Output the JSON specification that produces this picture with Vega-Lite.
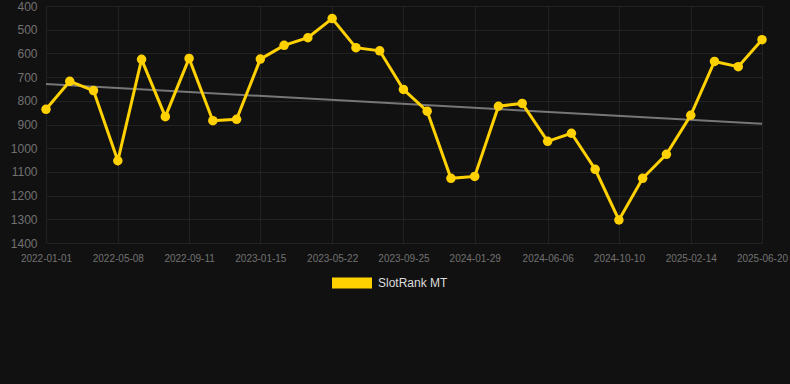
{
  "$schema": "https://vega.github.io/schema/vega-lite/v6.json",
  "width": 716,
  "height": 237,
  "autosize": "none",
  "padding": {"left": 46, "top": 6, "right": 28, "bottom": 141},
  "background": "#111111",
  "config": {
    "view": {"stroke": null},
    "font": "Liberation Sans",
    "axis": {"domain": false, "ticks": false, "gridColor": "#222222", "gridWidth": 1, "labelColor": "#717171", "labelFont": "Liberation Sans"}
  },
  "data": {
    "values": [
      {"date": "2022-01-01", "rank": 836},
      {"date": "2022-02-12", "rank": 718},
      {"date": "2022-03-26", "rank": 757},
      {"date": "2022-05-08", "rank": 1053},
      {"date": "2022-06-19", "rank": 625},
      {"date": "2022-07-31", "rank": 867},
      {"date": "2022-09-11", "rank": 621},
      {"date": "2022-10-23", "rank": 884},
      {"date": "2022-12-04", "rank": 878},
      {"date": "2023-01-15", "rank": 624},
      {"date": "2023-02-26", "rank": 566},
      {"date": "2023-04-09", "rank": 534},
      {"date": "2023-05-22", "rank": 453},
      {"date": "2023-07-03", "rank": 576},
      {"date": "2023-08-14", "rank": 589},
      {"date": "2023-09-25", "rank": 752},
      {"date": "2023-11-06", "rank": 844},
      {"date": "2023-12-18", "rank": 1127},
      {"date": "2024-01-29", "rank": 1119},
      {"date": "2024-03-11", "rank": 823},
      {"date": "2024-04-22", "rank": 811},
      {"date": "2024-06-06", "rank": 971},
      {"date": "2024-07-18", "rank": 937},
      {"date": "2024-08-29", "rank": 1089},
      {"date": "2024-10-10", "rank": 1303},
      {"date": "2024-11-21", "rank": 1127},
      {"date": "2025-01-02", "rank": 1026},
      {"date": "2025-02-14", "rank": 861},
      {"date": "2025-03-28", "rank": 634},
      {"date": "2025-05-09", "rank": 656},
      {"date": "2025-06-20", "rank": 542}
    ]
  },
  "encoding": {
    "x": {
      "field": "date", "type": "temporal",
      "scale": {"domain": ["2022-01-01", "2025-06-20"]},
      "axis": {
        "title": null, "format": "%Y-%m-%d", "labelFontSize": 10, "labelPadding": 10, "labelAngle": 0,
        "values": ["2022-01-01", "2022-05-08", "2022-09-11", "2023-01-15", "2023-05-22", "2023-09-25", "2024-01-29", "2024-06-06", "2024-10-10", "2025-02-14", "2025-06-20"],
        "labelOverlap": false, "labelFlush": false
      }
    },
    "y": {
      "field": "rank", "type": "quantitative",
      "scale": {"domain": [400, 1400], "reverse": true, "nice": false, "zero": false},
      "axis": {"title": null, "format": "d", "labelFontSize": 12, "labelPadding": 9, "values": [400, 500, 600, 700, 800, 900, 1000, 1100, 1200, 1300, 1400]}
    }
  },
  "layer": [
    {
      "transform": [{"regression": "rank", "on": "date"}],
      "mark": {"type": "line", "color": "#777777", "strokeWidth": 2}
    },
    {
      "mark": {"type": "line", "strokeWidth": 3, "point": {"size": 90, "filled": true, "opacity": 1}},
      "encoding": {
        "color": {
          "datum": "SlotRank MT",
          "scale": {"domain": ["SlotRank MT"], "range": ["#FFD100"]},
          "legend": {
            "title": null, "orient": "none", "legendX": 286, "legendY": 257,
            "symbolType": "M-1,-0.275H1V0.275H-1Z", "symbolSize": 1600, "symbolStrokeWidth": 0,
            "labelColor": "#dddddd", "labelFontSize": 12, "labelFont": "Liberation Sans", "labelOffset": 6
          }
        }
      }
    }
  ]
}
